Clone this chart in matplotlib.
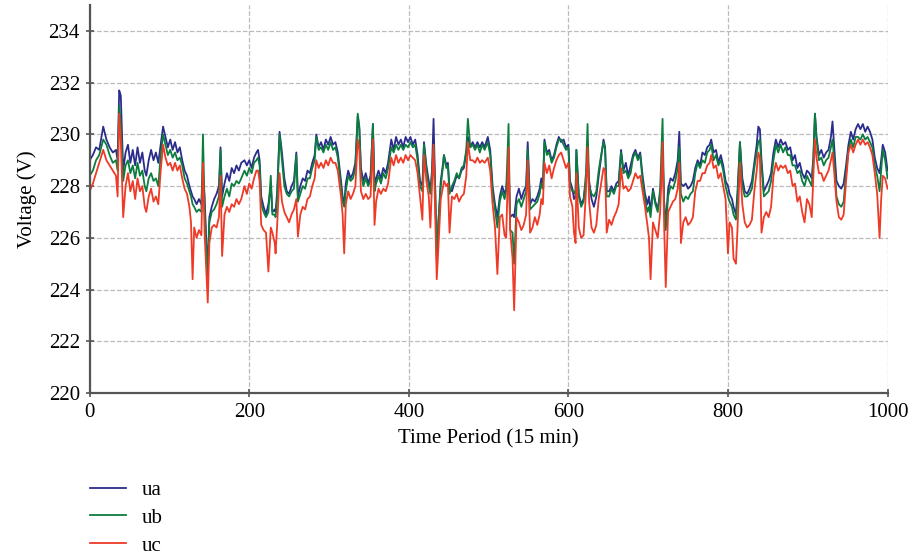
import numpy as np
import matplotlib.pyplot as plt

# time period index (15 min steps)
t = [0, 4, 8, 12, 17, 21, 25, 29, 33, 35, 37, 39, 42, 45, 48, 51, 54, 57, 60, 63,
     66, 69, 71, 74, 77, 80, 83, 86, 89, 92, 95, 98, 101, 104, 107, 110, 113, 116, 119, 122,
     125, 127, 129, 131, 134, 137, 140, 142, 144, 147, 148, 150, 153, 156, 159, 162, 164, 166, 169, 172,
     175, 178, 181, 184, 187, 190, 194, 197, 200, 203, 206, 209, 211, 213, 215, 218, 221, 224, 227, 229,
     232, 233, 235, 238, 241, 244, 247, 250, 253, 256, 259, 261, 264, 267, 270, 273, 276, 279, 282, 284,
     287, 290, 293, 296, 299, 302, 305, 308, 311, 315, 317, 319, 321, 324, 327, 330, 333, 336, 338, 340,
     343, 346, 349, 352, 355, 357, 359, 362, 365, 368, 371, 374, 378, 381, 384, 387, 390, 393, 396, 399,
     402, 405, 408, 411, 414, 417, 419, 422, 425, 427, 429, 431, 433, 435, 437, 440, 443, 444, 447, 449,
     451, 454, 457, 460, 463, 466, 469, 472, 474, 477, 480, 483, 486, 489, 492, 495, 499, 502, 505, 508,
     511, 514, 517, 520, 522, 525, 527, 530, 532, 535, 538, 541, 544, 547, 549, 552, 555, 558, 561, 564,
     566, 568, 570, 573, 576, 579, 582, 585, 588, 591, 594, 597, 600, 602, 605, 607, 609, 610, 613, 616,
     619, 622, 624, 626, 629, 632, 635, 638, 641, 644, 646, 648, 651, 654, 657, 660, 663, 666, 669, 672,
     675, 678, 681, 684, 687, 690, 693, 696, 699, 701, 703, 706, 709, 712, 715, 718, 720, 722, 725, 728,
     731, 734, 737, 739, 741, 744, 747, 750, 753, 756, 759, 762, 765, 768, 771, 774, 777, 779, 782, 785,
     788, 791, 794, 797, 800, 802, 805, 807, 810, 812, 815, 818, 821, 824, 827, 830, 833, 836, 838, 840,
     842, 845, 848, 851, 854, 857, 860, 863, 866, 869, 872, 875, 878, 881, 884, 887, 890, 893, 896, 899,
     902, 905, 907, 909, 911, 914, 917, 920, 923, 926, 929, 931, 933, 936, 939, 942, 945, 948, 951, 954,
     957, 960, 963, 966, 969, 972, 975, 978, 981, 984, 987, 990, 992, 994, 997, 1000]

ua = [229.0, 229.2, 229.5, 229.4, 230.3, 229.8, 229.5, 229.3, 229.4, 229.0, 231.7, 231.5, 228.6, 229.3, 229.6, 228.9, 229.4, 228.8, 229.5, 228.9,
      229.3, 228.6, 228.4, 229.0, 229.4, 229.0, 229.3, 228.9, 229.6, 230.3, 229.9, 229.5, 229.8, 229.4, 229.7, 229.3, 229.5, 229.0, 228.6, 228.4,
      228.0, 227.8, 227.6, 227.5, 227.3, 227.5, 227.3, 228.5, 227.6, 225.2, 224.9, 226.8, 227.2, 227.5, 227.7, 228.0, 229.5, 227.6, 228.1, 228.5,
      228.2, 228.7, 228.5, 228.8, 228.6, 228.9, 229.0, 228.8, 229.0, 228.7, 229.1, 229.3, 229.4, 229.0, 227.6, 227.2, 226.9, 227.3, 228.0, 227.0,
      227.1, 227.0, 227.8, 230.1, 229.3, 228.3, 227.8, 227.7, 228.0, 228.2, 229.3, 227.6, 228.0, 228.3, 228.2, 228.6, 228.5, 228.9, 229.2, 230.0,
      229.5, 229.7, 229.4, 229.8, 229.6, 229.9, 229.6, 229.7, 229.3, 228.2, 227.6, 227.3, 228.1, 228.6, 228.3, 228.5, 228.9, 230.7, 230.2, 228.7,
      228.2, 228.5, 228.1, 228.4, 230.4, 228.0, 228.3, 228.6, 228.3, 228.7, 228.5, 228.9, 229.8, 229.4, 229.9, 229.6, 229.8, 229.5, 229.9, 229.7,
      229.9, 229.6, 229.8, 229.2, 228.2, 228.0, 229.7, 228.8, 228.2, 227.8, 228.6, 230.6, 228.0, 225.2, 226.5, 228.2, 228.9, 229.2, 228.8, 228.9,
      227.9, 227.8, 228.1, 228.4, 228.3, 228.6, 228.7, 229.3, 229.9, 229.5, 229.7, 229.5, 229.7, 229.5, 229.7, 229.5, 229.9, 229.4, 228.0, 227.3,
      226.8, 227.6, 228.0, 227.7, 227.9, 228.8, 226.8, 226.9, 226.8, 227.6, 227.9, 227.5, 227.8, 228.0, 229.7, 227.3, 227.5, 227.4, 227.6, 227.9,
      228.3, 228.0, 229.8, 229.3, 229.4, 229.0, 229.2, 229.6, 229.9, 229.7, 229.8, 229.5, 229.6, 228.2, 227.9, 227.5, 227.6, 229.4, 227.7, 227.3,
      227.5, 228.2, 229.3, 228.2, 227.5, 227.2, 227.6, 228.4, 229.1, 229.8, 229.5, 227.8, 227.8, 228.0, 227.8, 228.1, 228.2, 229.4, 228.6, 228.9,
      228.4, 228.8, 229.2, 229.4, 229.1, 229.3, 228.4, 227.7, 227.3, 227.6, 227.0, 227.9, 227.4, 227.1, 227.7, 229.3, 227.4, 226.5, 227.9, 228.3,
      228.2, 228.5, 229.0, 230.1, 228.1, 228.0, 228.1, 227.9, 228.0, 228.2, 228.7, 229.0, 228.8, 229.3, 229.2, 229.5, 229.6, 229.8, 229.3, 229.4,
      228.9, 229.2, 228.8, 228.2, 228.0, 227.7, 227.5, 227.2, 226.9, 227.8, 229.7, 228.3, 227.8, 227.7, 227.9, 228.2, 228.9, 229.6, 230.3, 230.2,
      229.0, 227.8, 228.0, 228.2, 228.5, 229.3, 229.8, 229.5, 229.8, 229.6, 229.7, 229.4, 229.5, 229.0, 229.2, 228.7, 228.9, 228.5, 228.3, 228.6,
      228.5, 228.3, 229.1, 230.8, 229.9, 229.2, 229.4, 229.1, 229.3, 229.4, 229.9, 230.5, 229.6, 228.2, 228.0, 227.9, 228.1, 228.8, 229.6, 230.1,
      229.8, 230.2, 230.4, 230.2, 230.4, 230.1, 230.3, 230.1, 229.8, 229.1, 228.7, 228.5, 229.0, 229.6, 229.3, 228.6]

ub = [228.4, 228.6, 229.0, 229.2, 229.8, 229.6, 229.2, 228.9, 229.0, 228.6, 231.1, 230.4, 228.2, 228.8, 229.0, 228.5, 228.8, 228.3, 228.9, 228.4,
      228.6, 228.0, 227.8, 228.3, 228.5, 228.2, 228.3, 228.0, 229.2, 230.0, 229.6, 229.2, 229.4, 229.1, 229.3, 229.0, 229.1, 228.8, 228.3, 228.1,
      227.8, 227.6, 227.3, 227.2, 227.0, 227.1, 227.0, 230.0, 227.2, 224.9, 224.5, 226.6, 227.0, 227.1, 227.3, 227.6, 229.4, 227.2, 227.6, 227.9,
      227.6, 228.1, 228.0, 228.2, 228.1, 228.3, 228.6, 228.4, 228.7, 228.5, 228.9, 229.0, 229.1, 228.8, 227.3, 227.0, 226.8, 227.0, 228.4, 226.9,
      226.9, 226.8, 227.5, 230.0, 229.0, 228.0, 227.7, 227.6, 227.8, 227.9, 229.2, 227.4, 227.7, 228.0, 227.9, 228.3, 228.3, 228.7, 229.0, 229.9,
      229.4, 229.5, 229.3, 229.6, 229.4, 229.7, 229.4, 229.5, 229.1, 228.0, 227.4, 227.2, 227.8, 228.4, 228.2, 228.3, 228.7, 230.8, 230.3, 228.5,
      228.0, 228.3, 228.0, 228.2, 230.4, 227.8, 228.1, 228.4, 228.1, 228.5, 228.3, 228.7, 229.5, 229.3, 229.6, 229.4, 229.6, 229.4, 229.6, 229.5,
      229.7, 229.5, 229.6, 229.0, 228.0, 227.8, 229.6, 228.6, 228.0, 227.7, 228.4, 229.6, 227.9, 225.3, 226.6, 228.0, 228.8, 229.2, 228.7, 228.8,
      227.7, 228.0, 228.2, 228.5, 228.3, 228.7, 228.8, 229.4, 230.6, 229.5, 229.6, 229.4, 229.6, 229.3, 229.6, 229.4, 229.7, 229.2, 227.8, 227.1,
      226.4, 227.4, 227.8, 227.5, 227.8, 230.4, 226.3, 226.2, 225.0, 227.3, 227.5, 227.2, 227.5, 227.8, 229.4, 227.1, 227.2, 227.3, 227.4, 227.7,
      228.1, 227.9, 229.7, 229.2, 229.3, 228.9, 229.1, 229.5, 229.8, 229.8, 229.6, 229.4, 229.5, 228.0, 227.8, 227.8, 227.7, 229.4, 227.6, 227.2,
      227.4, 228.5, 230.4, 228.0, 227.7, 227.6, 227.8, 228.6, 229.2, 229.7, 229.4, 227.6, 227.6, 227.9, 227.7, 228.0, 228.0, 229.3, 228.5, 228.6,
      228.3, 228.5, 229.1, 229.3, 229.0, 229.2, 228.2, 227.5, 227.0, 227.2, 226.8, 227.8, 227.3, 227.0, 227.9, 230.6, 227.3, 226.3, 227.6, 228.0,
      227.9, 228.2, 228.7, 229.5, 227.7, 227.4, 227.6, 227.5, 227.7, 227.8, 228.5, 228.9, 228.7, 229.0, 228.9, 229.3, 229.4, 229.6, 229.0, 229.2,
      228.8, 229.0, 228.6, 228.0, 227.6, 227.4, 227.2, 226.9, 226.7, 227.6, 229.7, 228.0, 227.6, 227.6, 227.7, 227.9, 228.7, 229.3, 229.7, 229.8,
      228.8, 227.6, 227.7, 227.8, 228.2, 229.0, 229.6, 229.3, 229.6, 229.3, 229.5, 229.2, 229.2, 228.8, 228.8, 228.5, 228.6, 228.2, 228.0, 228.4,
      228.2, 228.0, 229.0, 230.8, 229.8, 229.0, 229.1, 228.8, 229.0, 229.1, 229.5, 229.8, 229.1, 227.6, 227.3, 227.2, 227.4, 228.5, 229.4, 229.8,
      229.5, 229.9, 229.9, 229.8, 230.0, 229.8, 229.9, 229.7, 229.5, 228.8, 228.4, 227.8, 228.6, 229.4, 229.0, 228.3]

uc = [227.8, 228.1, 228.5, 228.9, 229.4, 229.0, 228.8, 228.6, 228.4, 227.6, 230.8, 229.8, 226.8, 228.0, 228.5, 227.8, 228.2, 227.5, 228.3, 227.8,
      228.0, 227.2, 227.0, 227.6, 227.9, 227.4, 227.6, 227.3, 228.6, 229.6, 229.1, 228.8, 228.9, 228.6, 228.9, 228.6, 228.8, 228.3, 227.9, 227.7,
      227.2, 226.6, 224.4, 226.4, 226.0, 226.3, 226.1, 228.9, 226.2, 224.2, 223.5, 225.8, 226.4, 226.5, 226.4, 226.8, 228.4, 225.3, 226.9, 227.2,
      227.0, 227.3, 227.2, 227.5, 227.3, 227.5, 228.0, 227.7, 228.1, 227.9, 228.3, 228.6, 228.6, 228.2, 226.5, 226.3, 226.2, 224.7, 226.4, 226.2,
      225.8, 225.4, 226.5, 228.5, 227.4, 227.0, 226.8, 226.6, 226.9, 227.1, 227.5, 226.05, 226.9, 227.2, 227.1, 227.5, 227.6, 228.0, 228.3, 229.0,
      228.7, 228.9, 228.7, 229.0, 228.8, 229.1, 228.9, 228.9, 228.6, 227.6, 226.9, 225.4, 227.3, 227.8, 227.5, 227.7, 228.0, 229.8, 229.4, 227.8,
      227.5, 227.7, 227.5, 227.6, 229.8, 226.5, 227.4, 227.9, 227.7, 227.9, 227.8, 228.1, 229.1, 228.8, 229.2, 228.9, 229.1, 228.9, 229.2, 229.0,
      229.2, 229.1, 229.0, 228.5, 227.6, 226.7, 229.2, 228.2, 227.6, 226.4, 228.0, 229.6, 227.0, 224.4, 225.6, 227.5, 228.0, 228.2, 228.0, 228.1,
      226.2, 227.6, 227.5, 227.7, 227.4, 227.6, 227.7, 228.4, 229.7, 229.0, 229.0, 228.9, 229.1, 228.9, 229.0, 228.9, 229.1, 228.6, 227.3, 226.4,
      224.6, 226.8, 226.9, 226.1, 226.0, 229.5, 226.3, 225.2, 223.2, 226.8, 226.6, 226.3, 226.5, 226.9, 229.0, 226.2, 226.4, 226.8, 226.5, 226.9,
      227.5, 227.3, 228.9, 228.5, 228.8, 228.3, 228.7, 229.0, 229.2, 229.3, 229.0, 228.7, 228.9, 227.6, 227.2, 226.2, 225.8, 228.5, 226.4, 226.0,
      226.1, 227.8, 229.5, 227.4, 226.4, 226.2, 226.5, 227.5, 228.1, 228.7, 228.6, 226.2, 226.7, 226.5, 226.8, 227.0, 227.3, 228.7, 227.9, 228.0,
      227.8, 227.9, 228.2, 228.5, 228.3, 228.4, 227.8, 227.2, 226.5, 226.0, 224.4, 226.6, 226.3, 226.0, 227.0, 229.7, 226.5, 224.1, 227.0, 227.2,
      227.4, 227.5, 227.9, 228.9, 225.8, 226.6, 226.8, 226.5, 226.6, 226.8, 227.8, 228.2, 228.2, 228.5, 228.5, 228.8, 228.9, 229.2, 228.7, 228.8,
      228.3, 228.5, 228.0, 227.5, 225.4, 226.6, 226.4, 225.2, 225.0, 226.4, 228.9, 227.3, 226.6, 226.4, 226.5, 226.7, 227.8, 228.6, 229.3, 229.1,
      226.2, 226.8, 227.0, 226.8, 227.2, 228.4, 228.9, 228.6, 228.8, 228.7, 228.8, 228.5, 228.6, 228.0, 228.1, 227.4, 227.6, 227.0, 226.6, 227.5,
      227.3, 226.8, 228.4, 229.8, 229.1, 228.5, 228.5, 228.2, 228.4, 228.6, 229.0, 229.3, 228.6, 227.4, 226.8, 226.7, 226.9, 228.2, 229.3, 229.6,
      229.3, 229.6, 229.8, 229.6, 229.8, 229.6, 229.7, 229.5, 229.2, 228.5, 227.7, 226.0, 227.5, 228.4, 228.3, 227.9]

labels = ['ua', 'ub', 'uc']
colors = ['#2b2d8c', '#0b7d3e', '#ee3a26']

plt.rcParams['font.family'] = ['Liberation Serif', 'DejaVu Serif']

fig = plt.figure(figsize=(9.15, 5.56), dpi=100)
ax = fig.add_axes([0.098, 0.293, 0.872, 0.698])

for y, lab, c in zip([ua, ub, uc], labels, colors):
    ax.plot(t, y, color=c, lw=1.3, label=lab)

ax.set_xlim(0, 1000)
ax.set_ylim(220, 235)
ax.set_xticks([0, 200, 400, 600, 800, 1000])
ax.set_yticks([220, 222, 224, 226, 228, 230, 232, 234])
ax.grid(True, ls='--', color='#bbbbbb', lw=0.9)
ax.set_axisbelow(True)
for s in ['top', 'right']:
    ax.spines[s].set_visible(False)
for s in ['left', 'bottom']:
    ax.spines[s].set_color('#555555')
    ax.spines[s].set_linewidth(1.6)
ax.tick_params(direction='inout', length=6, width=1.2, color='#555555',
               labelsize=15, pad=4)
ax.set_xlabel('Time Period (15 min)', fontsize=15, labelpad=5)
ax.set_ylabel('Voltage (V)', fontsize=15, labelpad=8)

fig.legend(loc='upper left', bbox_to_anchor=(0.078, 0.17), frameon=False,
           fontsize=15, handlelength=1.7, labelspacing=0.4, handletextpad=0.8)

fig.savefig('out.png', dpi=100)
